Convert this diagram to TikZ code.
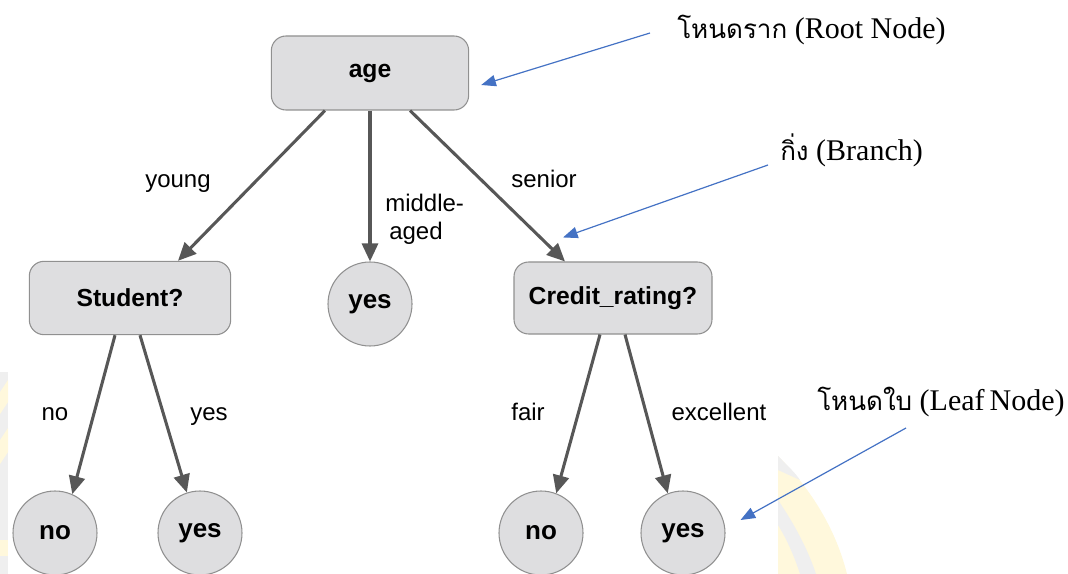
\documentclass[tikz,border=0pt]{standalone}
\usepackage{fontspec}
\setmainfont{Liberation Serif}
\setsansfont{Liberation Sans}
\newfontfamily\thaifont[Script=Thai]{Loma}
\usetikzlibrary{arrows.meta,calc}

\definecolor{nodefill}{HTML}{DEDEE0}
\definecolor{nodeedge}{HTML}{909090}
\definecolor{edgegray}{HTML}{575757}
\definecolor{notecolor}{HTML}{4472C4}
\definecolor{wmyellow}{HTML}{FFF8DC}
\definecolor{wmgray}{HTML}{EFEFEF}

\tikzset{
  decision/.style={draw=nodeedge, fill=nodefill, line width=0.8pt,
    rounded corners=11pt, inner sep=0pt,
    font=\sffamily\bfseries\fontsize{18.5}{20}\selectfont},
  leaf/.style={circle, draw=nodeedge, fill=nodefill, line width=0.8pt,
    minimum size=63pt, inner sep=0pt,
    font=\sffamily\bfseries\fontsize{19.5}{22}\selectfont},
  branch/.style={draw=edgegray, line width=2.3pt,
    -{Triangle[length=13.5pt,width=12pt]}},
  edgelabel/.style={font=\sffamily\fontsize{18}{21}\selectfont, inner sep=0pt},
  note/.style={draw=notecolor, line width=0.9pt,
    -{Triangle[length=11pt,width=8.5pt]}},
  notetext/.style={font=\fontsize{22.5}{26}\selectfont, inner sep=0pt, anchor=west}
}

\begin{document}
\begin{tikzpicture}[x=0.75pt,y=-0.75pt]
\useasboundingbox (0,0) rectangle (1068,574);

% faint background logo fragments
\fill[wmgray] (0,372) rectangle (8,574);
\fill[wmyellow] (0,392) -- (8,380) -- (8,402) -- (0,414) -- cycle;
\fill[wmyellow] (0,440) -- (8,428) -- (8,452) -- (0,464) -- cycle;
\fill[wmyellow] (0,540) rectangle (8,556);
\fill[wmyellow] (778,456) .. controls (812,490) and (836,530) .. (847,574) -- (778,574) -- cycle;
\fill[wmgray] (778,500) .. controls (795,525) and (808,550) .. (816,574) -- (800,574)
  .. controls (794,555) and (786,538) .. (778,525) -- cycle;
\fill[wmgray] (778,456) .. controls (790,468) and (796,474) .. (800,480) -- (778,470) -- cycle;

% decision nodes
\node[decision, minimum width=148pt, minimum height=55.5pt] (age) at (370,73) {age};
\node[decision, minimum width=151pt, minimum height=55pt] (stu) at (130,298) {Student?};
\node[decision, minimum width=148.5pt, minimum height=54pt] (cr) at (613,298) {Credit\_rating?};

% leaves
\node[leaf] (mid) at (370,304) {yes};
\node[leaf] (noL) at (55,533) {no};
\node[leaf] (yesL) at (200,533) {yes};
\node[leaf] (noR) at (541,533) {no};
\node[leaf] (yesR) at (683,533) {yes};

% branches
\draw[branch] ($(age.south)+(-45,0)$) -- ($(stu.north)+(48,0)$);
\draw[branch] (age.south) -- (mid.north);
\draw[branch] ($(age.south)+(40,0)$) -- ($(cr.north)+(-48,0)$);
\draw[branch] ($(stu.south)+(-15,0)$) -- (noL.66);
\draw[branch] ($(stu.south)+(10,0)$) -- (yesL.108);
\draw[branch] ($(cr.south)+(-13,0)$) -- (noR.69);
\draw[branch] ($(cr.south)+(12,0)$) -- (yesR.111);

% branch labels
\node[edgelabel, anchor=base] (lyoung) at (178,188) {young};
\node[edgelabel, anchor=west, align=left] (lmid) at (385,219) {middle-\\\,aged};
\node[edgelabel, anchor=base] (lsenior) at (544,188) {senior};
\node[edgelabel, anchor=base] (lno1) at (55,420) {no};
\node[edgelabel, anchor=base] (lyes1) at (209,420) {yes};
\node[edgelabel, anchor=base] (lfair) at (528,420) {fair};
\node[edgelabel, anchor=base] (lexc) at (719,420) {excellent};

% annotations
\node[notetext] (rootlbl) at (677,30) {{\thaifont\fontsize{19.5}{24}\selectfont โหนดราก} (Root Node)};
\node[notetext] (branchlbl) at (780,150) {{\thaifont\fontsize{19.5}{24}\selectfont กิ่ง} (Branch)};
\node[notetext] (leaflbl) at (817,402) {{\thaifont\fontsize{19.5}{24}\selectfont โหนดใบ} (Leaf\,Node)};

\coordinate (rootTail) at (650,33);
\coordinate (branchTail) at (768,165);
\coordinate (leafTail) at (906,428);
\draw[note] (rootTail) -- ($(age.east)+(12,12)$);
\draw[note] (branchTail) -- ($(cr.north)+(-50,-24)$);
\draw[note] (leafTail) -- ($(yesR.east)+(15,-13)$);
\end{tikzpicture}
\end{document}
